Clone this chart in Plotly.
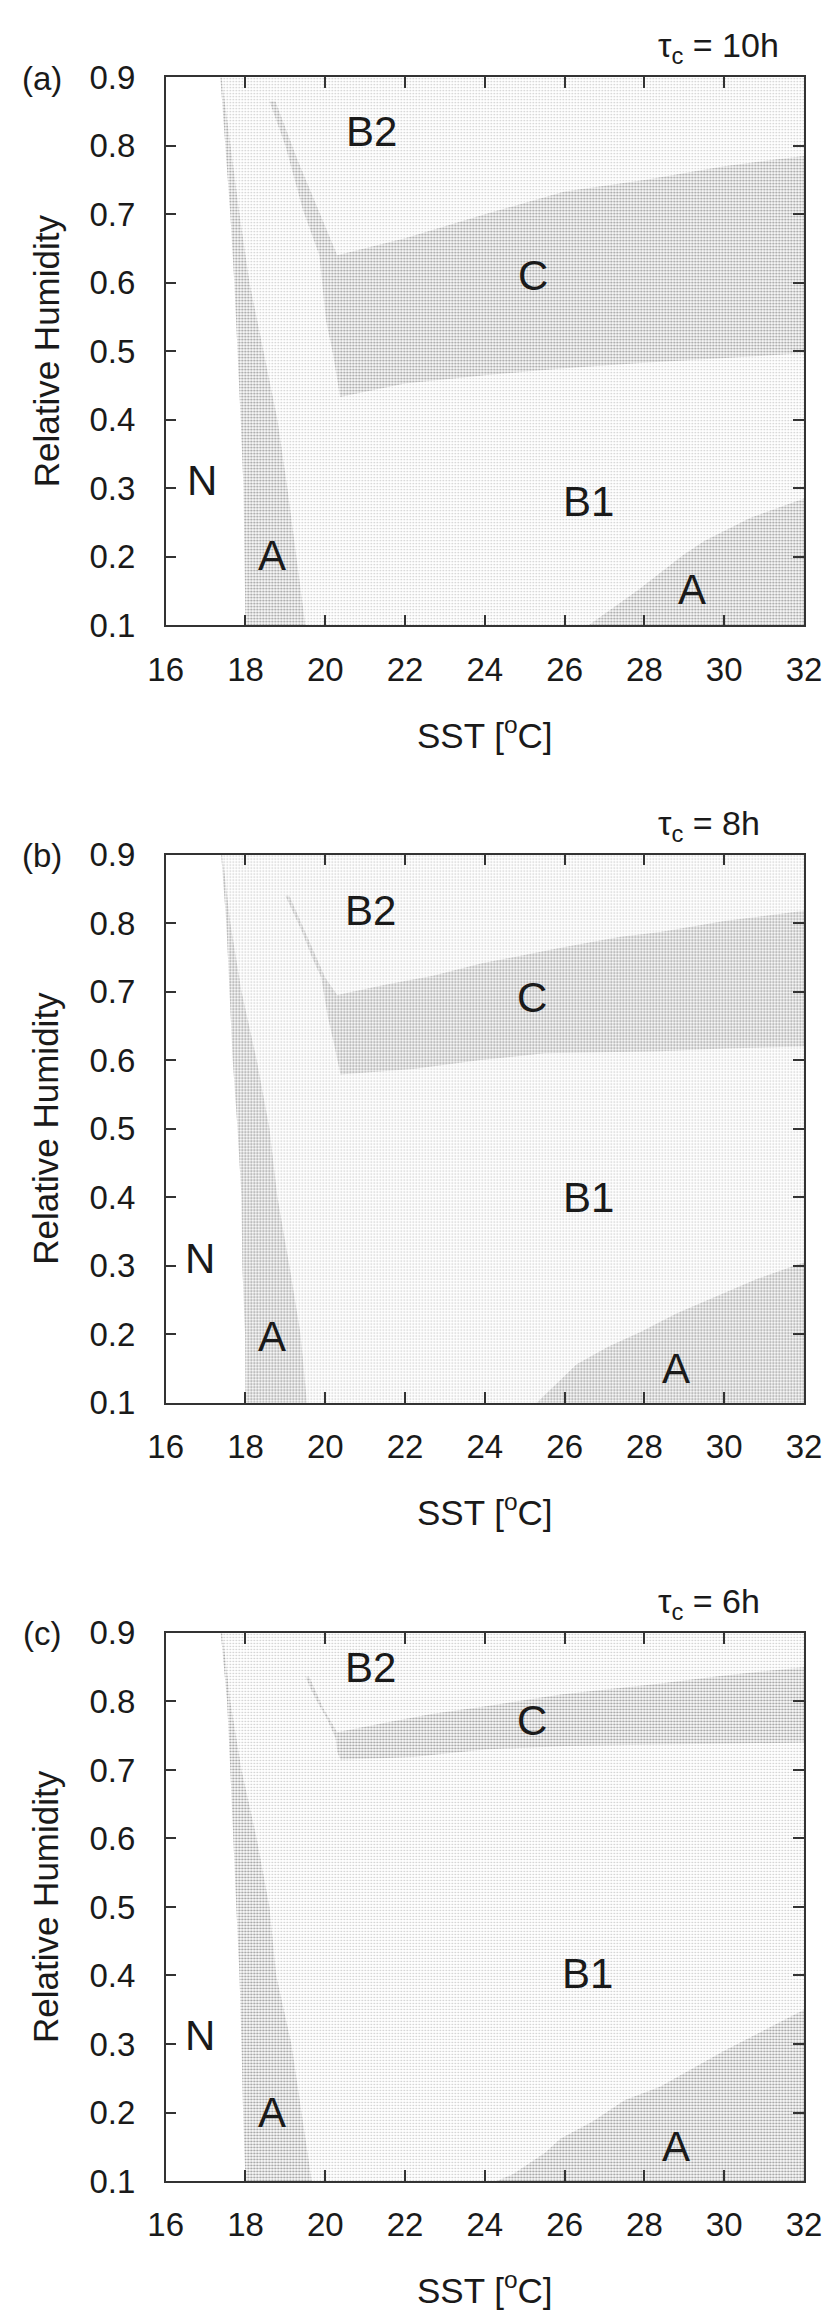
import plotly.graph_objects as go

# relative humidity levels at which the left-hand boundaries were read
rh_left = [0.1, 0.2, 0.3, 0.4, 0.5, 0.6, 0.7, 0.8, 0.9]

# SST of the N / A boundary
n_edge_a = [18.0, 17.98, 17.95, 17.88, 17.8, 17.72, 17.62, 17.5, 17.37]
n_edge_b = [18.0, 17.99, 17.92, 17.9, 17.8, 17.68, 17.6, 17.52, 17.39]
n_edge_c = [18.0, 17.94, 17.9, 17.85, 17.77, 17.7, 17.62, 17.54, 17.38]

# SST of the A / B1 boundary (cold side)
a_edge_a = [19.5, 19.27, 19.05, 18.8, 18.45, 18.1, 17.85, 17.62, 17.4]
a_edge_b = [19.54, 19.38, 19.1, 18.8, 18.6, 18.28, 17.9, 17.62, 17.42]
a_edge_c = [19.66, 19.4, 19.15, 18.77, 18.6, 18.28, 17.9, 17.62, 17.42]

# regime C: lower side (arm + bottom edge), upper side (arm + top edge)
c_lo_sst_a = [18.6, 19.0, 19.44, 19.85, 20.02, 20.19, 20.37, 22, 24, 26, 28, 30, 32]
c_lo_rh_a = [0.865, 0.80, 0.706, 0.64, 0.544, 0.497, 0.433, 0.453, 0.465, 0.475, 0.483, 0.49, 0.497]
c_hi_sst_a = [18.6, 18.75, 19.3, 19.8, 20.3, 22, 24, 26, 28, 30, 32]
c_hi_rh_a = [0.865, 0.865, 0.78, 0.71, 0.64, 0.665, 0.70, 0.733, 0.75, 0.77, 0.785]

c_lo_sst_b = [19.0, 19.18, 19.42, 19.66, 19.9, 20.0, 20.06, 20.22, 20.34, 20.38, 22.2, 23.9, 25.5, 28.4, 30, 32]
c_lo_rh_b = [0.84, 0.818, 0.787, 0.751, 0.72, 0.685, 0.664, 0.623, 0.592, 0.579, 0.587, 0.60, 0.61, 0.613, 0.617, 0.62]
c_hi_sst_b = [19.0, 19.1, 19.55, 20.0, 20.3, 21.5, 22.7, 23.9, 25.9, 27.4, 28.4, 30, 32]
c_hi_rh_b = [0.84, 0.84, 0.78, 0.72, 0.695, 0.71, 0.723, 0.741, 0.764, 0.78, 0.787, 0.803, 0.818]

c_lo_sst_c = [19.5, 19.66, 19.82, 20.02, 20.14, 20.26, 20.3, 20.38, 22.2, 24, 26, 28, 30, 32]
c_lo_rh_c = [0.836, 0.815, 0.797, 0.777, 0.762, 0.746, 0.726, 0.715, 0.719, 0.73, 0.735, 0.737, 0.738, 0.74]
c_hi_sst_c = [19.5, 19.6, 19.95, 20.3, 21.5, 22.7, 23.9, 25.9, 27.5, 28.4, 30, 32]
c_hi_rh_c = [0.836, 0.836, 0.79, 0.755, 0.769, 0.782, 0.792, 0.81, 0.82, 0.826, 0.838, 0.85]

# regime A at warm SST and dry air: upper boundary
a2_sst_a = [26.6, 27.85, 28.98, 29.5, 30.66, 31.5, 32]
a2_rh_a = [0.1, 0.152, 0.203, 0.223, 0.257, 0.275, 0.285]
a2_sst_b = [25.3, 26.3, 27.1, 27.9, 28.8, 29.8, 30.8, 32]
a2_rh_b = [0.1, 0.156, 0.182, 0.203, 0.23, 0.255, 0.28, 0.305]
a2_sst_c = [24.3, 24.7, 25.5, 25.9, 26.7, 27.5, 28.4, 30, 32]
a2_rh_c = [0.1, 0.11, 0.141, 0.162, 0.187, 0.218, 0.238, 0.29, 0.35]

tau_c = ['10h', '8h', '6h']
panel_tags = ['(a)', '(b)', '(c)']

# regime labels (text, SST, RH)
labels_a = [('N', 16.9, 0.312), ('A', 18.67, 0.202), ('B1', 26.6, 0.281),
            ('A', 29.2, 0.152), ('C', 25.2, 0.611), ('B2', 21.17, 0.82)]
labels_b = [('N', 16.87, 0.31), ('A', 18.66, 0.197), ('B1', 26.6, 0.40),
            ('A', 28.8, 0.15), ('C', 25.18, 0.692), ('B2', 21.14, 0.818)]
labels_c = [('N', 16.87, 0.313), ('A', 18.66, 0.20), ('B1', 26.58, 0.403),
            ('A', 28.8, 0.15), ('C', 25.18, 0.772), ('B2', 21.14, 0.849)]

panels = [
    (n_edge_a, a_edge_a, c_lo_sst_a, c_lo_rh_a, c_hi_sst_a, c_hi_rh_a, a2_sst_a, a2_rh_a, labels_a),
    (n_edge_b, a_edge_b, c_lo_sst_b, c_lo_rh_b, c_hi_sst_b, c_hi_rh_b, a2_sst_b, a2_rh_b, labels_b),
    (n_edge_c, a_edge_c, c_lo_sst_c, c_lo_rh_c, c_hi_sst_c, c_hi_rh_c, a2_sst_c, a2_rh_c, labels_c),
]

W, H = 836, 2316
FONT = 'Liberation Sans, Arial, Helvetica, sans-serif'
INK = '#1a1a1a'
AX = '#333333'
left_px, right_px, plot_h = 146, 813, 557
tops = [52, 842, 1633]

light = dict(shape='.', fgcolor='#8c8c8c', bgcolor='white', size=3, solidity=0.22)
dark = dict(shape='.', fgcolor='#2c2c2c', bgcolor='white', size=3, solidity=0.38)

fig = go.Figure()
annotations = []
layout = dict(width=W, height=H, margin=dict(l=0, r=0, t=0, b=0),
              paper_bgcolor='white', plot_bgcolor='white', showlegend=False,
              font=dict(family=FONT, color=INK))


def area(x, y, pattern, xa, ya):
    return go.Scatter(x=x, y=y, fill='toself', mode='lines', line=dict(width=0),
                      fillcolor='rgba(0,0,0,0)', fillpattern=pattern,
                      hoverinfo='skip', xaxis=xa, yaxis=ya)


for i, (n_edge, a_edge, clo_x, clo_y, chi_x, chi_y, a2x, a2y, labs) in enumerate(panels):
    k = '' if i == 0 else str(i + 1)
    xa, ya = 'x' + k, 'y' + k
    top = tops[i]
    y0 = 1 - (top + plot_h) / H
    y1 = 1 - top / H

    # B1 / B2 background: everything warmer than the N boundary
    fig.add_trace(area(n_edge + [32, 32], rh_left + [0.9, 0.1], light, xa, ya))
    # A strip on the cold side
    fig.add_trace(area(n_edge + a_edge[::-1], rh_left + rh_left[::-1], dark, xa, ya))
    # C band with its arm
    fig.add_trace(area(clo_x + chi_x[::-1], clo_y + chi_y[::-1], dark, xa, ya))
    # A at warm SST
    fig.add_trace(area(a2x + [32], a2y + [0.1], dark, xa, ya))

    axis_common = dict(showline=True, linecolor=AX, linewidth=1.5, mirror='ticks',
                       ticks='inside', ticklen=11, tickwidth=1.5, tickcolor=AX,
                       showgrid=False, zeroline=False,
                       tickfont=dict(size=33, family=FONT, color=INK))
    layout['xaxis' + k] = dict(axis_common, domain=[left_px / W, right_px / W],
                               range=[16, 32], tickvals=list(range(16, 33, 2)),
                               anchor=ya, ticklabelstandoff=14)
    layout['yaxis' + k] = dict(axis_common, domain=[y0, y1], range=[0.1, 0.9],
                               tickvals=rh_left, tickformat='.1f',
                               anchor=xa, ticklabelstandoff=22)

    for txt, sx, ry in labs:
        annotations.append(dict(text=txt, x=sx, y=ry, xref=xa, yref=ya, showarrow=False,
                                font=dict(size=42, family=FONT, color=INK)))

    annotations.append(dict(text=panel_tags[i], x=17 / W, y=1 - (top + 1) / H,
                            xref='paper', yref='paper', showarrow=False,
                            xanchor='center', yanchor='middle',
                            font=dict(size=33, family=FONT, color=INK)))
    annotations.append(dict(text='τ<sub>c</sub> = ' + tau_c[i], x=658 / W,
                            y=1 - (top - 30) / H, xref='paper', yref='paper',
                            showarrow=False, xanchor='left', yanchor='middle',
                            font=dict(size=34, family=FONT, color=INK)))
    annotations.append(dict(text='SST [<sup>o</sup>C]', x=(left_px + right_px) / 2 / W,
                            y=1 - (top + plot_h + 109) / H, xref='paper', yref='paper',
                            showarrow=False, xanchor='center', yanchor='middle',
                            font=dict(size=35, family=FONT, color=INK)))
    annotations.append(dict(text='Relative Humidity', x=21 / W,
                            y=1 - (top + plot_h / 2) / H, xref='paper', yref='paper',
                            showarrow=False, textangle=-90, xanchor='center',
                            yanchor='middle', font=dict(size=35, family=FONT, color=INK)))

layout['annotations'] = annotations
fig.update_layout(**layout)
fig.write_html('out.html')
